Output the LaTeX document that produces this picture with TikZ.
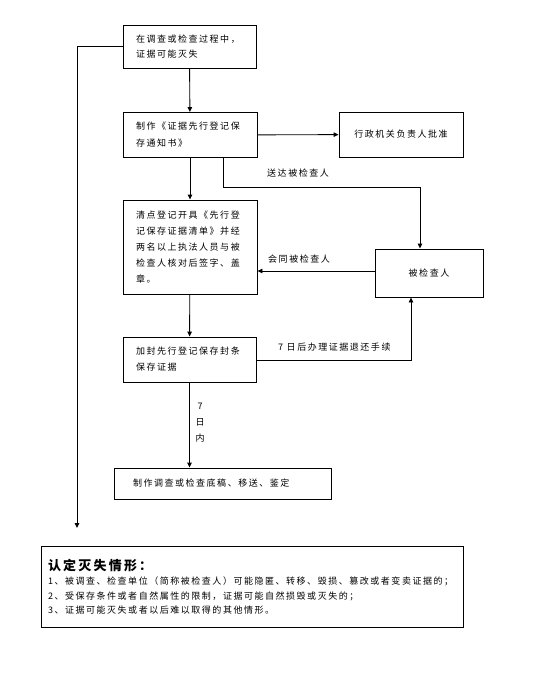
\documentclass[tikz,border=0pt]{standalone}
\usepackage{fontspec}
\newfontfamily\cjk[LetterSpace=17]{Noto Sans CJK SC}
\usetikzlibrary{arrows.meta}
\begin{document}
\begin{tikzpicture}[x=1pt,y=-1pt,
  every node/.style={font=\cjk\fontsize{9}{16}\selectfont},
  box/.style={draw,line width=0.9pt,inner sep=0pt,align=left,inner xsep=13pt},
  cbox/.style={draw,line width=0.9pt,inner sep=0pt,align=center},
  conn/.style={line width=0.9pt,-{Triangle[width=4.5pt,length=5pt]}},
  plain/.style={line width=0.9pt},
  lbl/.style={inner sep=0pt,anchor=west}]
\useasboundingbox (0,0) rectangle (552,691);
\node[box,minimum width=133pt,minimum height=43pt,text width=107pt,
  font=\cjk\fontsize{9}{15}\selectfont] (b1) at (189.5,46.5) {在调查或检查过程中，\\证据可能灭失};
\node[box,minimum width=134pt,minimum height=45pt,text width=108pt,
  font=\cjk\fontsize{9}{17}\selectfont] (b2) at (190,135) {制作《证据先行登记保\\存通知书》};
\node[box,minimum width=134pt,minimum height=94pt,text width=108pt] (b3) at (190,247)
  {清点登记开具《先行登\\记保存证据清单》并经\\两名以上执法人员与被\\检查人核对后签字、盖\\章。};
\node[box,minimum width=133pt,minimum height=45pt,text width=107pt] (b4) at (189.5,359.5)
  {加封先行登记保存封条\\保存证据};
\node[box,inner xsep=19pt,minimum width=217pt,minimum height=31pt,text width=179pt] (b5) at (222.5,483.5)
  {制作调查或检查底稿、移送、鉴定};
\node[cbox,minimum width=124pt,minimum height=45pt] (appr) at (401,134.5) {行政机关负责人批准};
\node[cbox,minimum width=108pt,minimum height=48pt] (bjr) at (429,273) {被检查人};
\node[box,inner xsep=7pt,minimum width=422pt,minimum height=81pt,text width=408pt,
  font=\cjk\fontsize{9}{14.5}\selectfont] (note) at (252,586.5)
  {{\fontsize{13}{18}\selectfont\bfseries 认定灭失情形：}\\
   1、被调查、检查单位（简称被检查人）可能隐匿、转移、毁损、篡改或者变卖证据的；\\
   2、受保存条件或者自然属性的限制，证据可能自然损毁或灭失的；\\
   3、证据可能灭失或者以后难以取得的其他情形。};
\coordinate (lend) at (77,528);
\coordinate (c1) at (223,187);
\coordinate (c2) at (420,187);
\coordinate (c3) at (411,360);
% connectors
\draw[conn] (b1) -- (b2);
\draw[conn] (b1.west) -| (lend);
\draw[conn] (b2) -- (appr);
\draw[conn] (b2) -- (b3);
\draw[conn] (b3) -- (b4);
\draw[conn] (b4.south) -- (b4.south |- b5.north);
\draw[conn] (b2.south -| c1) -- (c1) -- (c2) -- (c2 |- bjr.north);
\draw[conn] (bjr.west |- 0,271) -- (b3.east |- 0,271);
\draw[conn] (b4.east |- c3) -- (c3) -- (c3 |- bjr.south);
% labels
\node[lbl] (l1) at (267,173) {送达被检查人};
\node[lbl] (l2) at (268,259.5) {会同被检查人};
\node[lbl] (l3) at (278,347) {7 日后办理证据退还手续};
\node[inner sep=0pt,align=center,font=\cjk\fontsize{9}{16}\selectfont] (l4) at (200,423) {7\\日\\内};
\end{tikzpicture}
\end{document}
